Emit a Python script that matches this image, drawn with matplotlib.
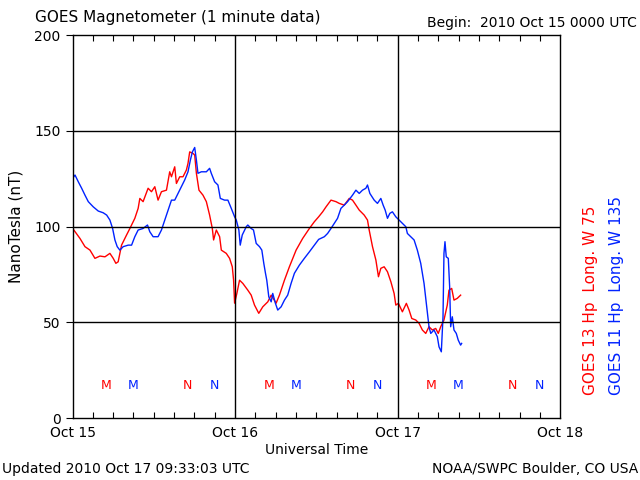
import numpy as np
import matplotlib
matplotlib.use("Agg")
import matplotlib.pyplot as plt

# GOES 13 (red) - hours since 2010 Oct 15 00 UTC, nT
g13_hours = [0.03, 1.10, 1.84, 2.58, 3.31, 4.05, 4.79, 5.52, 6.01, 6.40, 6.74, 7.24, 7.98, 8.47,
             9.20, 9.69, 9.94, 10.42, 11.16, 11.66, 12.15, 12.63, 13.13, 13.87, 14.35, 14.61,
             15.09, 15.34, 15.83, 16.31, 16.81, 17.05, 17.30, 17.79, 18.04, 18.29, 18.67, 19.26,
             19.76, 20.24, 20.64, 20.83, 21.23, 21.72, 21.97, 22.70, 23.19, 23.59, 23.78, 23.93,
             24.26, 24.66, 25.15, 25.88, 26.38, 26.87, 27.50, 28.09, 28.83, 29.33, 30.06, 30.55,
             31.29, 32.02, 33.01, 33.98, 34.97, 35.70, 36.34, 36.93, 37.43, 38.16, 38.90, 39.38,
             40.12, 40.86, 41.34, 41.84, 42.33, 43.06, 43.55, 43.80, 44.29, 44.79, 45.17, 45.52,
             46.01, 46.50, 47.00, 47.48, 47.73, 48.12, 48.70, 49.29, 49.69, 50.09, 50.68, 51.16,
             51.65, 52.15, 52.63, 53.12, 53.62, 54.00, 54.36, 54.84, 55.33, 55.58, 55.98, 56.32,
             56.80, 57.30]
g13_nt = [99, 93.8, 89.5, 87.7, 83.4, 84.6, 84.2, 86, 83.4, 80.8, 81.6, 90.3, 95.6, 99,
          104.3, 109.5, 114.7, 113, 120, 118.2, 120.8, 113.8, 118.2, 119, 128.6, 126,
          131.2, 122.5, 126, 126, 129.5, 133, 139, 138.2, 137.3, 127.8, 119, 116.4,
          113, 106, 99, 93, 98.2, 94.7, 87.7, 86, 83.4, 79, 72, 60,
          65, 72, 70.3, 66.8, 64.2, 59, 54.7, 58.1, 60.7, 64.2, 60, 64.2,
          72, 79, 87.7, 93.8, 99, 102.5, 105.1, 107.7, 110.3, 113.8, 113, 112.1,
          111.2, 114.7, 113.8, 111.2, 108.6, 106, 103.4, 98.2, 89.5, 82.5, 73.8, 78.2,
          79, 76.4, 71.2, 65.1, 59, 59.9, 55.5, 59.9, 56.4, 52, 51.2, 49.5,
          46, 44.2, 47.7, 46, 46.8, 44.2, 47.7, 51.2, 59, 66.8, 67.7, 61.6,
          62.5, 64.2]

# GOES 11 (blue)
g11_hours = [0.03, 0.37, 0.85, 1.35, 1.84, 2.33, 3.06, 3.80, 4.53, 5.04, 5.52, 5.92, 6.26, 6.60,
             6.99, 7.48, 8.22, 8.72, 9.20, 9.69, 10.42, 11.07, 11.41, 11.90, 12.63, 13.13, 13.62,
             14.10, 14.61, 15.09, 15.58, 16.08, 16.56, 17.05, 17.40, 17.70, 18.04, 18.29, 18.52,
             19.02, 19.76, 20.24, 20.49, 20.98, 21.47, 21.82, 22.45, 22.94, 23.44, 23.93, 24.18,
             24.56, 24.76, 25.06, 25.65, 25.88, 26.38, 26.72, 27.12, 27.61, 27.95, 28.24, 28.49,
             28.68, 28.98, 29.33, 29.56, 29.96, 30.30, 30.80, 31.29, 31.77, 32.27, 32.76, 33.50,
             34.23, 34.97, 35.70, 36.34, 37.18, 37.66, 38.16, 38.65, 39.13, 39.63, 40.12, 40.61,
             41.34, 41.84, 42.33, 42.81, 43.31, 43.55, 43.90, 44.54, 45.02, 45.52, 45.86, 46.16,
             46.50, 46.85, 47.23, 47.73, 48.22, 48.71, 49.21, 49.44, 49.94, 50.43, 50.91, 51.41,
             51.90, 52.24, 52.63, 52.89, 53.37, 53.86, 54.11, 54.45, 54.70, 54.84, 54.99, 55.18,
             55.48, 55.68, 55.83, 56.07, 56.32, 56.66, 56.95, 57.30, 57.45]
g11_nt = [125.2, 126.9, 123.4, 120, 116.4, 113, 110.3, 108.1, 107.2, 106, 103.4, 99, 93, 89.5,
          87.7, 89.5, 90.3, 90.3, 94.7, 98.2, 99, 100.8, 97.3, 94.7, 94.7, 98.2, 103.4,
          108.6, 113.8, 113.8, 117.3, 120.8, 124.3, 128.6, 134.7, 139, 141.3, 134.7, 127.8,
          128.6, 128.6, 130.4, 127.8, 123.4, 121.7, 114.7, 113.8, 113.8, 109.5, 105.1, 103.4,
          98.2, 90.3, 95.6, 99.9, 100.8, 99, 98.2, 91.2, 89.5, 87.7, 80.8, 75.6,
          72, 63.3, 60.7, 65.1, 59.9, 56.4, 58.1, 61.6, 64.2, 70.3, 75.6, 79.9,
          83.4, 86.8, 90.3, 93.3, 94.7, 96.4, 99, 101.7, 104.3, 109.5, 111.2, 113,
          116.4, 119, 117.3, 119, 120, 121.7, 117.3, 113.8, 112.1, 114.7, 111.2, 108.6,
          104.3, 106.9, 107.7, 105.1, 103.4, 101.7, 99.9, 96.4, 94.7, 93, 87.7, 80.8,
          70.3, 59.9, 47.7, 44.2, 46, 42.5, 37.2, 34.6, 52.9, 86, 92.1, 84.2,
          83.4, 68.6, 47.7, 52.9, 46, 44.2, 40.7, 38.1, 39]

# local midnight (M) / noon (N) markers, hours UT
g13_m = [5, 29, 53]
g13_n = [17, 41, 65]
g11_m = [9, 33, 57]
g11_n = [21, 45, 69]

day_ticks = [0, 24, 48, 72]
day_labels = ["Oct 15", "Oct 16", "Oct 17", "Oct 18"]

fs = 10
fig = plt.figure(figsize=(6.4, 4.8), dpi=100)
ax = fig.add_axes([0.1133, 0.129, 0.762, 0.798])

ax.plot(g13_hours, g13_nt, color="#ff0000", lw=1.0)
ax.plot(g11_hours, g11_nt, color="#0022ff", lw=1.0)

for h in g13_m:
    ax.text(h, 17, "M", color="#ff0000", ha="center", va="center", fontsize=9)
for h in g13_n:
    ax.text(h, 17, "N", color="#ff0000", ha="center", va="center", fontsize=9)
for h in g11_m:
    ax.text(h, 17, "M", color="#0022ff", ha="center", va="center", fontsize=9)
for h in g11_n:
    ax.text(h, 17, "N", color="#0022ff", ha="center", va="center", fontsize=9)

ax.set_xlim(0, 72)
ax.set_ylim(0, 200)
for v in [50, 100, 150]:
    ax.axhline(v, color="black", lw=1.0)
for d in [24, 48]:
    ax.axvline(d, color="black", lw=1.0)

ax.set_xticks(day_ticks)
ax.set_xticklabels(day_labels, fontsize=fs)
ax.set_xticks(np.arange(0, 73, 3), minor=True)
ax.tick_params(axis="x", which="major", length=0, pad=6)
ax.tick_params(axis="x", which="minor", direction="in", length=4, top=True, width=0.8)
ax.set_yticks([0, 50, 100, 150, 200])
ax.tick_params(axis="y", which="major", direction="out", length=5, labelsize=fs, width=0.8)
for s in ax.spines.values():
    s.set_linewidth(1.0)

ax.set_xlabel("Universal Time", fontsize=fs, labelpad=2)
ax.set_ylabel("NanoTesla (nT)", fontsize=11, labelpad=8)

fig.text(0.055, 0.963, "GOES Magnetometer (1 minute data)", fontsize=11, va="center")
fig.text(0.995, 0.952, "Begin:  2010 Oct 15 0000 UTC", fontsize=10, va="center", ha="right")
fig.text(0.003, 0.022, "Updated 2010 Oct 17 09:33:03 UTC", fontsize=10, va="center")
fig.text(0.997, 0.022, "NOAA/SWPC Boulder, CO USA", fontsize=10, va="center", ha="right")

fig.text(0.922, 0.178, "GOES 13 Hp  Long. W 75", color="#ff0000", fontsize=11,
         rotation=90, ha="center", va="bottom")
fig.text(0.964, 0.178, "GOES 11 Hp  Long. W 135", color="#0022ff", fontsize=11,
         rotation=90, ha="center", va="bottom")

fig.savefig("out.png", dpi=100)
